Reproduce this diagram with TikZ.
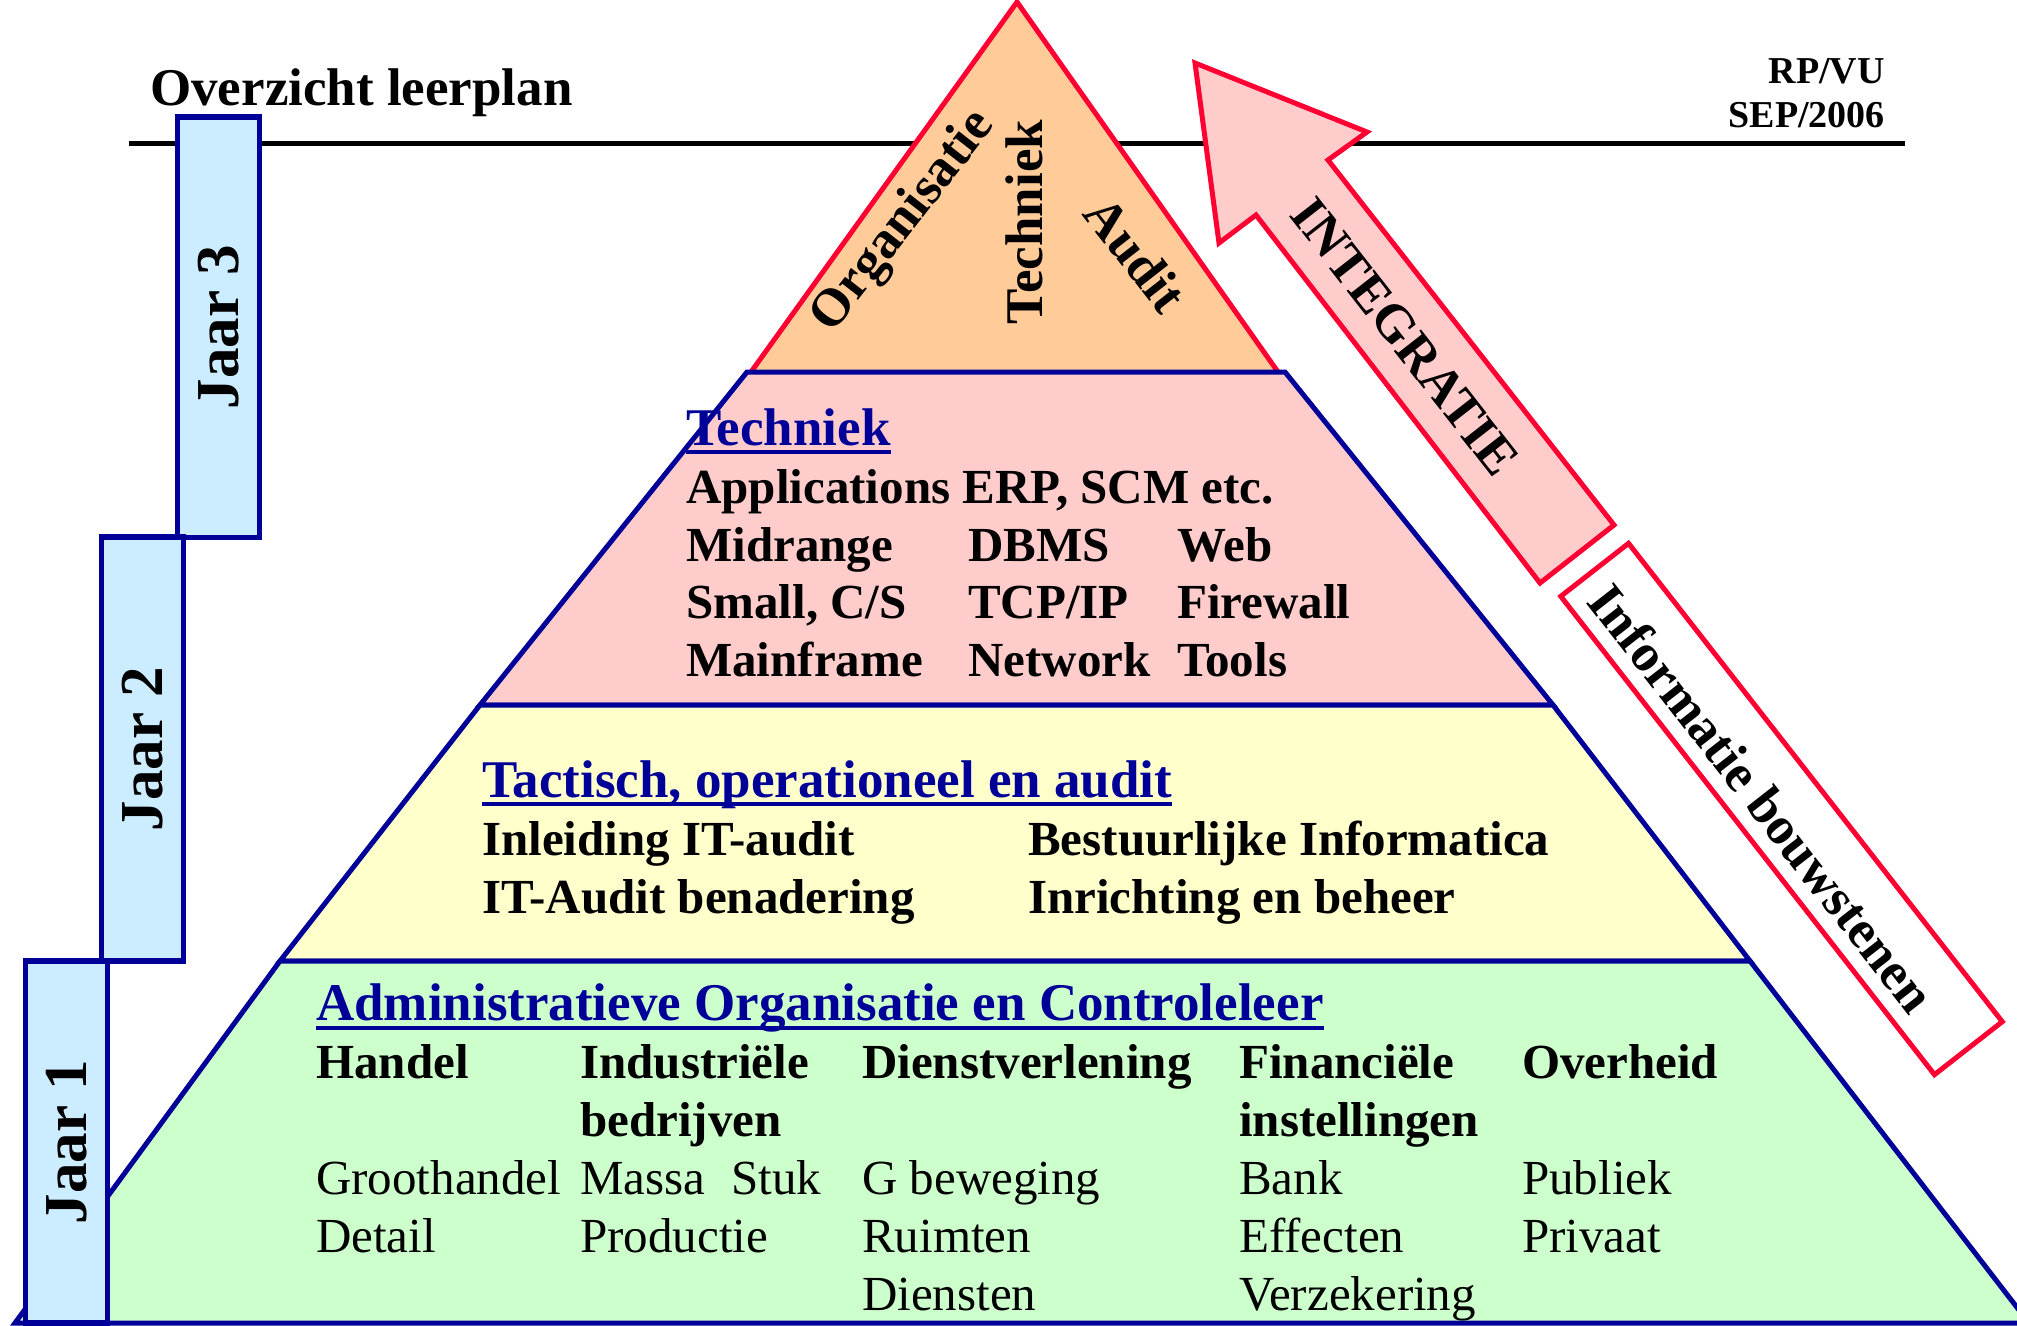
\documentclass[tikz,border=0pt]{standalone}
\usepackage{fontspec}
\setmainfont{Liberation Serif}
\definecolor{pblue}{RGB}{0,0,153}
\definecolor{pred}{RGB}{255,0,51}
\definecolor{porange}{RGB}{255,204,153}
\definecolor{ppink}{RGB}{255,204,204}
\definecolor{pyellow}{RGB}{255,255,204}
\definecolor{pgreen}{RGB}{204,255,204}
\definecolor{pjaar}{RGB}{204,236,255}
\tikzset{
  txt/.style={inner sep=0pt, anchor=base west, font=\fontsize{49}{58}\selectfont\bfseries},
  txtr/.style={inner sep=0pt, anchor=base west, font=\fontsize{49}{58}\selectfont},
  hdr/.style={inner sep=0pt, anchor=base west, text=pblue, font=\fontsize{53}{62}\selectfont\bfseries},
  big/.style={inner sep=0pt, font=\fontsize{53}{62}\selectfont\bfseries},
  small/.style={inner sep=0pt, anchor=base east, font=\fontsize{38}{45}\selectfont\bfseries},
  layer/.style={draw=pblue, line width=5pt, line join=miter},
  redline/.style={draw=pred, line width=5pt, line join=miter},
  jaarbox/.style={draw=pblue, fill=pjaar, line width=5.5pt, rotate=90, minimum height=82pt, inner sep=0pt, font=\fontsize{61}{70}\selectfont\bfseries},
  uline/.style={draw=pblue, line width=3.5pt},
}
\begin{document}
\begin{tikzpicture}[x=1pt,y=-1pt]
\useasboundingbox (0,0) rectangle (2017,1325);
\clip (0,0) rectangle (2017,1325);
\fill[white] (0,0) rectangle (2017,1325);
% header line
\coordinate (hl0) at (129,143);
\coordinate (hl1) at (1905,143);
\draw[line width=5pt] (hl0) -- (hl1);
% top triangle
\fill[porange] (751,372) -- (1017,2) -- (1278,372) -- cycle;
\draw[redline] (751,372) -- (1017,2) -- (1278,372);
% layers
\filldraw[layer, fill=ppink] (747,372) -- (1285,372) -- (1553,705) -- (480,705) -- cycle;
\filldraw[layer, fill=pyellow] (480,705) -- (1553,705) -- (1750,961) -- (280,961) -- cycle;
\filldraw[layer, fill=pgreen] (280,961) -- (1750,961) -- (2029,1323) -- (15,1323) -- cycle;
% integratie arrow
\filldraw[redline, fill=ppink] (1195,63) -- (1367,132) -- (1328,160) -- (1614,525) -- (1540,583) -- (1256,215) -- (1219,243) -- cycle;
\node[big, rotate=-52] (integ) at (1405,337) {INTEGRATIE};
% informatie bouwstenen
\node[draw=pred, fill=white, line width=5pt, rotate=-52, minimum width=607pt, minimum height=86pt, inner sep=0pt] (ib) at (1781.5,809) {};
\node[big, rotate=-52] (ibt) at (1762,798) {Informatie bouwstenen};
% jaar boxes
\node[jaarbox, minimum width=420.5pt] (j3) at (218.5,327) {Jaar 3};
\node[jaarbox, minimum width=424pt] (j2) at (142.5,749) {Jaar 2};
\node[jaarbox, minimum width=362pt] (j1) at (66.5,1142) {Jaar 1};
% titles
\node[big, anchor=base west] (title) at (150,105) {Overzicht leerplan};
\node[small] (rp) at (1885,83) {RP/VU};
\node[small] (sep) at (1885,127) {SEP/2006};
% top triangle text
\node[big, rotate=52] (org) at (904,222) {Organisatie};
\node[big, rotate=90] (tech) at (1024,222) {Techniek};
\node[big, rotate=-52] (aud) at (1136,254) {Audit};
% techniek layer
\node[hdr] (h1) at (686,445) {Techniek};
\draw[uline] ([yshift=-7pt]h1.base west) -- ([yshift=-7pt]h1.base east);
\node[txt] (t11) at (686,503) {Applications ERP, SCM etc.};
\node[txt] (t21) at (686,561) {Midrange};
\node[txt] (t22) at (968,561) {DBMS};
\node[txt] (t23) at (1177,561) {Web};
\node[txt] (t31) at (686,618) {Small, C/S};
\node[txt] (t32) at (968,618) {TCP/IP};
\node[txt] (t33) at (1177,618) {Firewall};
\node[txt] (t41) at (686,676) {Mainframe};
\node[txt] (t42) at (968,676) {Network};
\node[txt] (t43) at (1177,676) {Tools};
% tactisch layer
\node[hdr] (h2) at (482,797) {Tactisch, operationeel en audit};
\draw[uline] ([yshift=-7pt]h2.base west) -- ([yshift=-7pt]h2.base east);
\node[txt] (a11) at (482,855) {Inleiding IT-audit};
\node[txt] (a12) at (1028,855) {Bestuurlijke Informatica};
\node[txt] (a21) at (482,913) {IT-Audit benadering};
\node[txt] (a22) at (1028,913) {Inrichting en beheer};
% admin layer
\node[hdr] (h3) at (316,1020) {Administratieve Organisatie en Controleleer};
\draw[uline] ([yshift=-8pt]h3.base west) -- ([yshift=-8pt]h3.base east);
\node[txt] (c1) at (316,1078) {Handel};
\node[txt] (c2) at (580,1078) {Industriële};
\node[txt] (c3) at (862,1078) {Dienstverlening};
\node[txt] (c4) at (1239,1078) {Financiële};
\node[txt] (c5) at (1522,1078) {Overheid};
\node[txt] (c2b) at (580,1136) {bedrijven};
\node[txt] (c4b) at (1239,1136) {instellingen};
\node[txtr] (r11) at (316,1194) {Groothandel};
\node[txtr] (r12) at (580,1194) {Massa};
\node[txtr] (r12b) at (731,1194) {Stuk};
\node[txtr] (r13) at (862,1194) {G beweging};
\node[txtr] (r14) at (1239,1194) {Bank};
\node[txtr] (r15) at (1522,1194) {Publiek};
\node[txtr] (r21) at (316,1252) {Detail};
\node[txtr] (r22) at (580,1252) {Productie};
\node[txtr] (r23) at (862,1252) {Ruimten};
\node[txtr] (r24) at (1239,1252) {Effecten};
\node[txtr] (r25) at (1522,1252) {Privaat};
\node[txtr] (r33) at (862,1310) {Diensten};
\node[txtr] (r34) at (1239,1310) {Verzekering};
\end{tikzpicture}
\end{document}
